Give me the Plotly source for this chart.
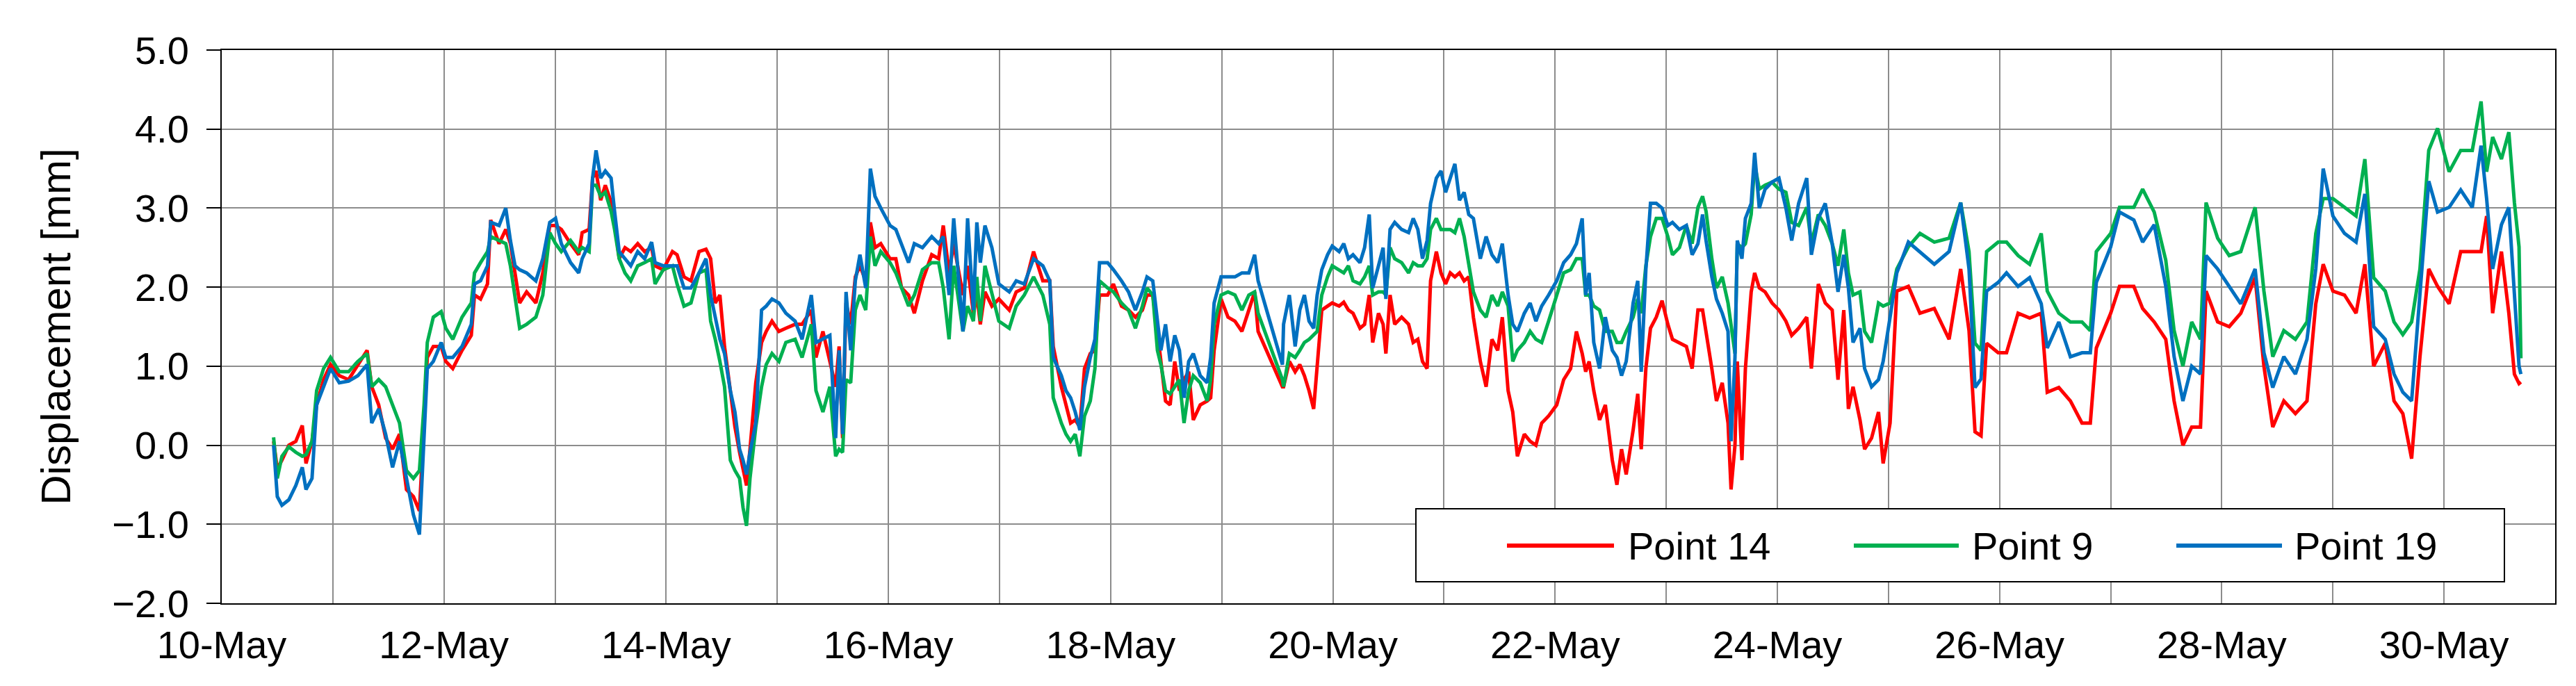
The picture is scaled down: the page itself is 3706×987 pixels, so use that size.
import pandas as pd
import plotly.graph_objects as go

# hours since 10-May 00:00
hours = [11.2,12.0,13.0,14.5,16.0,17.4,18.2,19.5,20.5,22.0,23.5,25.4,27.4,29.4,31.4,32.4,33.9,35.4,36.9,38.4,
 39.9,41.4,42.7,43.7,44.4,45.7,47.4,48.4,49.9,51.9,53.9,54.6,55.9,57.4,58.1,59.9,
 61.35,62.35,63.35,64.35,65.85,67.85,69.35,70.85,72.1,73.35,75.35,77.1,77.85,79.35,80.1,80.85,81.85,82.85,84.1,84.85,
 85.85,87.1,88.35,89.85,91.35,92.85,93.6,95.35,97.35,98.35,99.85,101.35,103.1,104.6,105.6,106.6,107.6,108.6,109.85,110.85,
 111.85,112.6,113.35,114.1,115.35,116.6,117.6,118.85,
 120.35,121.85,123.85,125.35,127.35,128.35,129.85,131.35,132.6,133.35,134.1,134.85,135.85,136.85,137.85,139.1,140.1,141.1,142.35,144.35,
 145.6,146.85,148.35,149.6,151.35,153.35,154.85,155.85,157.1,158.1,160.1,161.1,162.35,163.1,163.85,164.85,166.35,167.85,170.1,171.6,
 173.35,175.35,177.35,178.85,179.6,
 181.35,182.35,183.35,184.35,185.35,186.35,187.6,188.6,189.6,191.35,192.6,194.35,195.85,197.35,198.85,199.85,201.1,202.1,202.85,203.85,
 204.85,205.85,206.85,207.85,208.85,209.85,211.35,212.85,213.6,214.35,215.85,217.35,218.85,220.35,221.85,223.1,223.85,229.1,229.35,230.6,
 231.85,232.85,233.85,234.85,235.85,236.6,237.6,238.85,239.85,
 241.35,242.35,243.35,244.35,245.85,246.85,247.85,248.6,249.85,250.85,251.45,252.35,253.35,254.85,256.35,257.35,258.35,259.35,260.35,261.1,
 262.35,263.35,264.35,265.35,266.35,267.35,268.35,269.35,270.35,271.85,273.1,274.35,275.6,276.6,277.85,278.85,279.85,281.35,282.6,283.85,
 285.1,286.6,288.35,289.85,291.35,292.6,293.85,294.6,295.35,296.35,297.6,298.85,300.35,
 301.35,302.35,303.35,304.85,305.85,306.6,307.6,308.6,309.85,311.1,312.35,313.35,314.85,316.35,317.6,318.85,319.85,320.6,321.85,322.85,
 324.1,325.35,326.0,326.85,327.35,328.35,329.1,330.35,331.1,332.1,333.35,334.85,336.35,337.85,339.1,340.6,342.35,343.35,344.85,346.35,
 347.85,349.1,350.35,351.35,352.35,353.85,354.85,356.35,357.85,358.85,360.35,
 361.8,364.3,366.8,369.9,373.1,375.6,377.4,378.7,380.0,381.2,383.7,385.5,388.0,390.5,393.0,394.3,396.8,399.3,401.8,403.6,
 404.9,408.0,409.9,413.0,414.9,417.4,419.9,421.7,423.6,425.5,427.4,428.6,431.1,433.6,436.1,439.2,441.1,443.0,445.4,447.9,
 450.4,452.3,453.9,456.0,458.5,461.0,462.9,464.8,467.3,469.2,471.1,473.0,474.8,476.7,478.6,481.1,483.6,486.1,488.0,489.2,
 490.5,492.4,494.0,495.2,496.2,496.6]

point14 = [0.05,-0.3,-0.19,0.0,0.05,0.25,-0.23,0.05,0.51,0.83,1.02,0.88,0.83,1.02,1.2,0.74,0.51,0.09,-0.05,0.14,
 -0.56,-0.65,-0.83,0.28,1.11,1.25,1.25,1.06,0.97,1.2,1.39,1.9,1.85,2.04,2.85,2.55,
 2.73,2.55,2.18,1.8,1.94,1.8,2.18,2.78,2.78,2.73,2.55,2.41,2.69,2.73,3.38,3.47,3.1,3.29,3.08,2.82,
 2.36,2.5,2.45,2.55,2.45,2.5,2.27,2.22,2.45,2.41,2.13,2.08,2.45,2.48,2.36,1.8,1.9,1.25,0.69,0.23,
 -0.09,-0.32,-0.51,-0.05,0.79,1.3,1.44,1.57,
 1.44,1.48,1.53,1.53,1.71,1.11,1.44,1.06,0.74,1.25,0.09,1.8,1.53,2.13,2.27,2.08,2.82,2.5,2.55,2.36,
 2.36,1.99,1.9,1.67,2.08,2.41,2.36,2.78,2.18,2.55,1.9,2.27,1.67,1.9,1.53,1.94,1.76,1.85,1.71,1.94,
 1.99,2.45,2.08,2.08,1.25,
 0.74,0.51,0.28,0.32,0.23,0.97,1.16,1.2,1.9,1.9,2.04,1.76,1.71,1.62,1.71,1.9,1.9,1.44,1.06,0.56,
 0.51,1.06,0.69,0.83,0.93,0.32,0.51,0.56,0.6,1.2,1.85,1.62,1.57,1.44,1.71,1.94,1.44,0.74,0.74,1.06,
 0.93,1.02,0.88,0.69,0.46,0.97,1.71,1.76,1.8,
 1.76,1.81,1.71,1.67,1.48,1.53,1.9,1.3,1.67,1.53,1.16,1.9,1.53,1.62,1.53,1.3,1.34,1.06,0.97,2.08,
 2.45,2.18,2.04,2.18,2.13,2.18,2.08,2.13,1.62,1.06,0.74,1.34,1.2,1.62,0.69,0.42,-0.14,0.14,0.05,0.0,
 0.28,0.37,0.51,0.83,0.97,1.44,1.16,0.93,1.06,0.69,0.32,0.51,-0.19,
 -0.5,-0.05,-0.37,0.19,0.65,-0.05,0.97,1.48,1.62,1.83,1.53,1.34,1.3,1.25,0.97,1.71,1.71,1.44,0.97,0.56,
 0.79,0.28,-0.56,0.0,1.06,-0.19,0.97,1.94,2.18,1.99,1.94,1.8,1.71,1.57,1.39,1.48,1.62,0.97,2.04,1.8,
 1.71,0.83,1.71,0.46,0.74,0.32,-0.05,0.09,0.42,-0.23,0.28,
 1.95,2.01,1.67,1.73,1.34,2.23,1.45,0.17,0.12,1.29,1.17,1.17,1.67,1.61,1.67,0.67,0.73,0.56,0.28,0.28,
 1.23,1.67,2.01,2.01,1.73,1.56,1.34,0.56,0.0,0.23,0.23,1.95,1.56,1.5,1.67,2.12,1.0,0.23,0.56,0.4,
 0.56,1.79,2.29,1.95,1.9,1.67,2.29,1.0,1.29,0.56,0.4,-0.17,1.12,2.23,2.01,1.79,2.45,2.45,2.45,2.9,
 1.67,2.45,1.67,0.9,0.78,0.8]

point9 = [0.1,-0.42,-0.14,-0.02,-0.09,-0.14,-0.12,0.05,0.69,0.97,1.11,0.93,0.93,1.06,1.16,0.74,0.83,0.74,0.51,0.28,
 -0.32,-0.42,-0.32,0.51,1.3,1.62,1.69,1.48,1.34,1.62,1.8,2.18,2.31,2.45,2.64,2.59,
 2.55,2.27,1.9,1.48,1.53,1.62,1.9,2.69,2.55,2.45,2.59,2.45,2.5,2.45,3.29,3.29,3.15,3.2,2.96,2.73,
 2.36,2.18,2.08,2.27,2.31,2.36,2.04,2.22,2.27,2.04,1.76,1.8,2.18,2.22,1.57,1.34,1.06,0.74,-0.19,-0.32,
 -0.42,-0.79,-1.02,-0.42,0.23,0.74,1.02,1.16,
 1.06,1.3,1.34,1.11,1.53,0.69,0.42,0.74,-0.14,-0.05,-0.09,0.83,0.79,1.71,1.9,1.71,2.64,2.27,2.45,2.31,
 2.18,1.99,1.76,1.9,2.22,2.31,2.31,1.99,1.34,2.27,1.44,1.76,1.57,2.13,1.57,2.27,1.94,1.57,1.48,1.76,
 1.9,2.13,1.9,1.53,0.6,
 0.28,0.14,0.05,0.14,-0.14,0.37,0.56,0.97,2.08,1.99,1.94,1.8,1.71,1.48,1.76,1.99,1.9,1.2,1.02,0.69,
 0.65,0.74,0.83,0.28,0.69,0.88,0.79,0.56,0.83,1.53,1.9,1.94,1.9,1.71,1.9,1.94,1.67,0.83,0.74,1.16,
 1.11,1.2,1.3,1.34,1.39,1.44,1.9,2.13,2.27,
 2.22,2.18,2.27,2.08,2.04,2.13,2.27,1.9,1.94,1.94,1.9,2.5,2.36,2.31,2.18,2.31,2.27,2.27,2.36,2.73,
 2.87,2.73,2.73,2.73,2.69,2.87,2.64,2.31,1.94,1.71,1.62,1.9,1.76,1.94,1.76,1.06,1.2,1.3,1.44,1.34,
 1.3,1.57,1.9,2.18,2.22,2.36,2.36,1.9,1.9,1.76,1.71,1.44,1.44,
 1.3,1.3,1.44,1.62,1.85,1.67,2.27,2.64,2.87,2.87,2.64,2.41,2.5,2.78,2.55,3.01,3.15,2.96,2.36,1.99,
 2.13,1.8,1.53,1.16,2.55,2.5,2.55,2.92,3.56,3.24,3.29,3.33,3.24,3.2,2.82,2.78,3.01,2.55,2.92,2.78,
 2.55,2.27,2.73,2.18,1.9,1.94,1.44,1.3,1.8,1.76,1.8,
 2.23,2.51,2.68,2.57,2.62,3.07,2.45,1.29,1.2,2.45,2.57,2.57,2.4,2.29,2.68,1.95,1.67,1.56,1.56,1.45,
 2.45,2.68,3.01,3.01,3.24,2.95,2.34,1.45,1.0,1.56,1.34,3.07,2.62,2.4,2.45,3.01,1.95,1.12,1.45,1.34,
 1.56,2.68,3.12,3.12,3.01,2.9,3.62,2.12,1.95,1.56,1.4,1.56,2.23,3.73,4.01,3.46,3.73,3.73,4.35,3.46,
 3.9,3.62,3.96,3.07,2.51,1.1]

point19 = [0.0,-0.65,-0.76,-0.69,-0.51,-0.28,-0.56,-0.42,0.51,0.74,0.97,0.79,0.81,0.88,1.02,0.28,0.46,0.14,-0.28,0.05,
 -0.42,-0.88,-1.13,0.05,0.97,1.06,1.3,1.11,1.11,1.25,1.53,2.04,2.08,2.27,2.82,2.78,
 3.0,2.59,2.27,2.22,2.18,2.08,2.36,2.82,2.87,2.55,2.31,2.18,2.36,2.55,3.38,3.73,3.38,3.47,3.38,2.96,
 2.45,2.36,2.27,2.45,2.36,2.57,2.31,2.27,2.27,2.27,1.99,1.99,2.18,2.36,1.9,1.62,1.34,1.16,0.69,0.42,
 -0.05,-0.19,-0.37,-0.09,0.28,1.71,1.76,1.85,
 1.8,1.67,1.57,1.34,1.9,1.3,1.34,1.39,0.09,1.2,0.14,1.94,1.2,2.08,2.41,1.99,3.5,3.15,3.0,2.78,
 2.73,2.55,2.31,2.55,2.5,2.64,2.55,2.64,1.9,2.87,1.44,2.87,1.71,2.82,2.31,2.78,2.5,2.04,1.94,2.08,
 2.04,2.36,2.27,2.08,1.11,
 0.88,0.69,0.6,0.42,0.19,0.74,1.11,1.34,2.31,2.31,2.22,2.08,1.94,1.71,1.94,2.13,2.08,1.53,1.2,1.53,
 1.06,1.39,1.2,0.6,1.06,1.16,0.88,0.79,1.11,1.8,2.13,2.13,2.13,2.18,2.18,2.41,2.08,1.02,1.53,1.9,
 1.25,1.71,1.9,1.57,1.48,1.9,2.22,2.41,2.52,
 2.45,2.55,2.36,2.41,2.31,2.5,2.92,1.99,2.27,2.5,1.85,2.73,2.82,2.73,2.69,2.87,2.73,2.36,2.59,3.06,
 3.38,3.47,3.2,3.38,3.56,3.1,3.2,2.92,2.87,2.36,2.64,2.41,2.31,2.55,1.9,1.53,1.44,1.67,1.8,1.57,
 1.76,1.9,2.08,2.31,2.41,2.55,2.87,1.9,2.18,1.3,0.97,1.62,1.2,
 1.11,0.88,1.06,1.8,2.08,0.93,2.22,3.06,3.06,3.0,2.78,2.82,2.73,2.78,2.41,2.55,2.92,2.59,2.13,1.85,
 1.67,1.44,0.05,1.11,2.59,2.36,2.87,3.06,3.7,3.0,3.24,3.33,3.38,3.0,2.59,3.06,3.38,2.41,2.87,3.06,
 2.55,1.94,2.41,1.99,1.3,1.48,0.97,0.74,0.83,1.06,1.62,
 2.18,2.57,2.45,2.29,2.45,3.07,2.23,0.73,0.84,1.95,2.06,2.18,2.01,2.12,1.79,1.23,1.56,1.12,1.17,1.17,
 2.06,2.51,2.95,2.85,2.57,2.79,2.01,1.12,0.56,1.0,0.9,2.4,2.23,2.01,1.79,2.23,1.17,0.73,1.12,0.9,
 1.34,2.23,3.5,2.9,2.68,2.57,3.18,1.5,1.34,0.9,0.67,0.56,1.95,3.34,2.95,3.01,3.23,3.01,3.79,3.12,
 2.23,2.79,3.01,1.95,1.0,0.9]

series = [("Point 14", point14, "#FF0000"), ("Point 9", point9, "#00B050"), ("Point 19", point19, "#0070C0")]

t0 = pd.Timestamp("2019-05-10")
times = [t0 + pd.Timedelta(hours=h) for h in hours]

FONT = "Liberation Sans, Arial, sans-serif"
FS = 56
W, H = 3706, 987
L, R, T, B = 311, 38, 64, 127
pw, ph = W - L - R, H - T - B

def px(x):
    return (x - L) / pw

def py(y):
    return (H - B - y) / ph

fig = go.Figure()
for name, vals, col in series:
    n = min(len(times), len(vals))
    fig.add_trace(go.Scatter(x=times[:n], y=vals[:n], mode="lines", name=name,
                             line=dict(color=col, width=5), showlegend=False))

fig.update_layout(
    width=W, height=H, margin=dict(l=L, r=R, t=T, b=B),
    paper_bgcolor="white", plot_bgcolor="white",
    font=dict(family=FONT, size=FS, color="black"),
    xaxis=dict(type="date", range=[t0, t0 + pd.Timedelta(days=21)],
               dtick=2 * 86400000, tick0=t0, tickformat="%d-%b",
               showgrid=True, gridcolor="#8C8C8C", gridwidth=2,
               minor=dict(dtick=86400000, tick0=t0, showgrid=True, gridcolor="#8C8C8C", gridwidth=2),
               showline=True, linecolor="black", linewidth=2, mirror=True,
               ticks="", tickfont=dict(size=FS), zeroline=False, ticklabelstandoff=10),
    yaxis=dict(range=[-2, 5], dtick=1, tickformat=".1f",
               showgrid=True, gridcolor="#8C8C8C", gridwidth=2,
               showline=True, linecolor="black", linewidth=2, mirror=True,
               ticks="outside", ticklen=20, tickcolor="black", tickwidth=2,
               tickfont=dict(size=FS), zeroline=False, ticklabelstandoff=14,
               title=dict(text="Displacement [mm]", font=dict(size=60), standoff=40)),
)

# legend box
shapes = [dict(type="rect", xref="paper", yref="paper", x0=px(2029), x1=px(3595), y0=py(829), y1=py(724),
               line=dict(color="black", width=2), fillcolor="white", layer="above")]
items = [(2160, 2314, 2332), (2659, 2810, 2827), (3123, 3275, 3291)]
for (a, b, tx), (name, vals, col) in zip(items, series):
    shapes.append(dict(type="line", xref="paper", yref="paper", x0=px(a), x1=px(b), y0=py(777), y1=py(777),
                       line=dict(color=col, width=6), layer="above"))
    fig.add_annotation(xref="paper", yref="paper", x=px(tx), y=py(777), text=name, showarrow=False,
                       xanchor="left", yanchor="middle", font=dict(size=FS, family=FONT, color="black"))
fig.update_layout(shapes=shapes)

fig.write_html("out.html")
